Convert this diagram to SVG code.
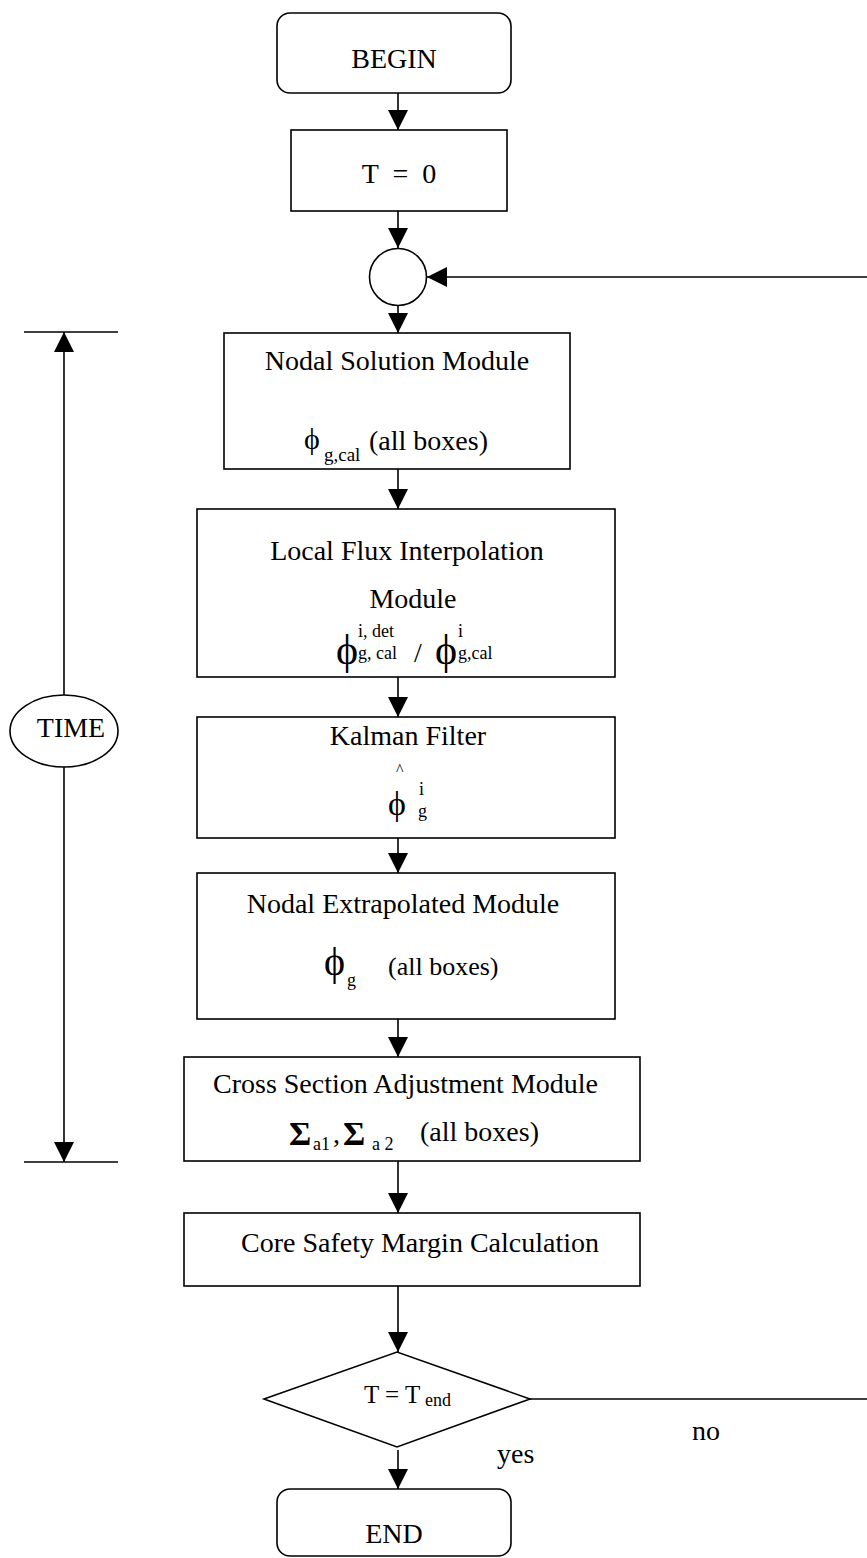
<svg xmlns="http://www.w3.org/2000/svg" width="867" height="1558" viewBox="0 0 867 1558">
<style>
.s{fill:#fff;stroke:#000;stroke-width:1.6}
.l{fill:none;stroke:#000;stroke-width:1.6}
.t{font-family:"Liberation Serif","Times New Roman",serif;font-size:28px;fill:#000}
.m{text-anchor:middle}
.sm{font-family:"Liberation Serif","Times New Roman",serif;font-size:18px;fill:#000}
.ph{font-family:"Liberation Serif","DejaVu Serif",serif;font-size:40px;fill:#000}
</style>
<defs>
<marker id="ah" markerWidth="20" markerHeight="20" refX="20" refY="10" orient="auto" markerUnits="userSpaceOnUse">
<path d="M0,0 L20,10 L0,20 Z" fill="#000"/>
</marker>
</defs>
<g id="connectors">
<line class="l" x1="398" y1="93" x2="398" y2="130" marker-end="url(#ah)"/>
<line class="l" x1="398" y1="211" x2="398" y2="248" marker-end="url(#ah)"/>
<line class="l" x1="398" y1="305" x2="398" y2="333" marker-end="url(#ah)"/>
<line class="l" x1="398" y1="469" x2="398" y2="509" marker-end="url(#ah)"/>
<line class="l" x1="398" y1="677" x2="398" y2="717" marker-end="url(#ah)"/>
<line class="l" x1="398" y1="838" x2="398" y2="873" marker-end="url(#ah)"/>
<line class="l" x1="398" y1="1019" x2="398" y2="1057" marker-end="url(#ah)"/>
<line class="l" x1="398" y1="1161" x2="398" y2="1213" marker-end="url(#ah)"/>
<line class="l" x1="398" y1="1286" x2="398" y2="1352" marker-end="url(#ah)"/>
<line class="l" x1="398" y1="1450" x2="398" y2="1489" marker-end="url(#ah)"/>
<line class="l" x1="530" y1="1399" x2="867" y2="1399"/>
<line class="l" x1="867" y1="277" x2="427" y2="277" marker-end="url(#ah)"/>
<line class="l" x1="24" y1="332" x2="118" y2="332"/>
<line class="l" x1="24" y1="1162" x2="118" y2="1162"/>
<line class="l" x1="64" y1="695" x2="64" y2="332" marker-end="url(#ah)"/>
<line class="l" x1="64" y1="767" x2="64" y2="1162" marker-end="url(#ah)"/>
</g>
<g id="time">
<ellipse class="s" cx="64" cy="731" rx="54" ry="36"/>
<text class="t m" x="71" y="737">TIME</text>
</g>
<g id="begin">
<rect class="s" x="277" y="13" width="234" height="80" rx="13"/>
<text class="t m" x="394" y="68">BEGIN</text>
</g>
<g id="t0">
<rect class="s" x="291" y="130" width="216" height="81"/>
<text class="t m" x="399" y="183" xml:space="preserve">T  =  0</text>
</g>
<g id="junction">
<circle class="s" cx="398" cy="277" r="28.5"/>
</g>
<g id="nodal-solution">
<rect class="s" x="224" y="333" width="346" height="136"/>
<text class="t m" x="397" y="370">Nodal Solution Module</text>
<text class="ph" x="304" y="449" style="font-size:30px">ϕ</text>
<text class="sm" x="324" y="461" style="font-size:19px">g,cal</text>
<text class="t" x="369" y="450">(all boxes)</text>
</g>
<g id="local-flux">
<rect class="s" x="197" y="509" width="418" height="168"/>
<text class="t m" x="407" y="560">Local Flux Interpolation</text>
<text class="t m" x="413" y="608">Module</text>
<text class="ph" x="336" y="664" style="font-size:42px">ϕ</text>
<text class="sm" x="358" y="637">i, det</text>
<text class="sm" x="358" y="659">g, cal</text>
<text class="t" x="414" y="662">/</text>
<text class="ph" x="435" y="664" style="font-size:42px">ϕ</text>
<text class="sm" x="458" y="637">i</text>
<text class="sm" x="458" y="659">g,cal</text>
</g>
<g id="kalman">
<rect class="s" x="197" y="717" width="418" height="121"/>
<text class="t m" x="408" y="745">Kalman Filter</text>
<text class="sm" x="396" y="775" style="font-size:16px">^</text>
<text class="ph" x="388" y="815" style="font-size:34px">ϕ</text>
<text class="sm" x="419" y="795">i</text>
<text class="sm" x="418" y="817">g</text>
</g>
<g id="nodal-extrapolated">
<rect class="s" x="197" y="873" width="418" height="146"/>
<text class="t m" x="403" y="913">Nodal Extrapolated Module</text>
<text class="ph" x="324" y="975">ϕ</text>
<text class="sm" x="347" y="986">g</text>
<text class="t" x="388" y="975" style="font-size:26px">(all boxes)</text>
</g>
<g id="cross-section">
<rect class="s" x="184" y="1057" width="456" height="104"/>
<text class="t" x="213" y="1093">Cross Section Adjustment Module</text>
<text class="t" x="289" y="1145" style="font-size:34px;font-weight:bold">Σ</text>
<text class="sm" x="313" y="1150">a1</text>
<text class="t" x="333" y="1143">,</text>
<text class="t" x="343" y="1145" style="font-size:34px;font-weight:bold">Σ</text>
<text class="sm" x="372" y="1150">a 2</text>
<text class="t" x="420" y="1141">(all boxes)</text>
</g>
<g id="core-safety">
<rect class="s" x="184" y="1213" width="456" height="73"/>
<text class="t m" x="420" y="1252">Core Safety Margin Calculation</text>
</g>
<g id="decision">
<polygon class="s" points="264,1399 397,1352 530,1399 397,1447"/>
<text class="t" x="364" y="1403" style="font-size:25px">T = T</text>
<text class="sm" x="425" y="1406">end</text>
</g>
<g id="end">
<rect class="s" x="277" y="1489" width="234" height="67" rx="13"/>
<text class="t m" x="394" y="1543">END</text>
</g>
<text class="t" x="692" y="1440">no</text>
<text class="t" x="497" y="1463">yes</text>
</svg>
